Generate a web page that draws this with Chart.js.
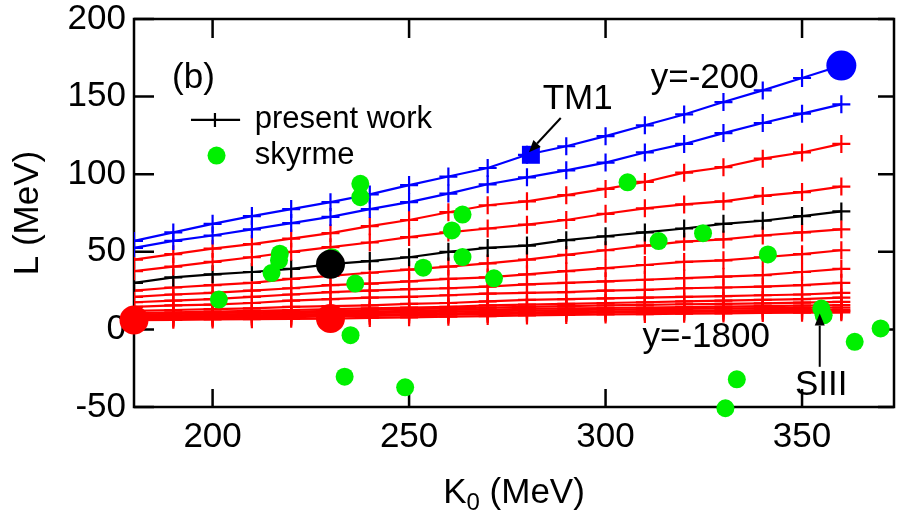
<!DOCTYPE html>
<html>
<head>
<meta charset="utf-8">
<script src="https://cdn.jsdelivr.net/npm/chart.js@4.4.1/dist/chart.umd.min.js"></script>
<style>
  html, body { margin: 0; padding: 0; background: #ffffff; }
  #wrap { width: 909px; height: 523px; position: relative; }
</style>
</head>
<body>
<div id="wrap"><canvas id="chart"></canvas></div>
<script>
// K0 grid of the model curves (MeV)
const kValues = [180, 190, 200, 210, 220, 230, 240, 250, 260, 270, 280, 290, 300, 310, 320, 330, 340, 350, 360];

// L (MeV) along each curve, from y=-200 (top) down to y=-1800 (bottom)
const lBlue1 = [57, 62.5, 68, 73, 77.5, 82, 87, 93, 98.5, 104, 112.5, 118, 124.5, 131.5, 138.5, 146.5, 154, 162, 170];
const lBlue2 = [52.5, 57, 60.5, 64.5, 68.5, 72.5, 77.5, 82, 87.5, 93.5, 98, 102.5, 107.5, 114, 119.5, 126.5, 133, 139, 145];
const lRed1 = [45, 48.5, 52, 55, 58.5, 62, 66.5, 70.5, 75.5, 80, 82.5, 86.5, 90.5, 95, 101, 104.5, 110, 114, 119.5];
const lRed2 = [37.5, 40.5, 43.5, 46.5, 50, 53, 56, 59.5, 62.5, 65, 67.5, 70.5, 74.5, 78, 80.5, 82.5, 86, 88.5, 92];
const lBlack = [30, 33.5, 35.5, 37, 39, 42, 44, 46.5, 50, 52.5, 54, 57.5, 60, 62.5, 65, 68, 70, 73, 76];
const lRed3 = [25, 27, 28.5, 30, 32.5, 34.5, 36.5, 38.5, 40.5, 42.5, 45, 48, 51, 54, 56.5, 58, 60.5, 62.5, 64.5];
const lRed4 = [21, 22.5, 23.5, 25, 26.5, 28.5, 29.5, 31, 32.5, 33.5, 35.5, 37.5, 39.5, 41.5, 43.5, 44.5, 46.5, 48.5, 51];
const lRed5 = [17.5, 18.5, 19.5, 21, 22.5, 24, 25, 26, 26.5, 27.5, 29, 30, 31, 32, 33, 34, 35, 37, 39];
const lRed6 = [14.5, 15.5, 16, 17, 18.5, 19.5, 20.5, 21, 22, 23, 23.5, 24, 25, 25.5, 26.5, 27, 27.5, 28.5, 30];
const lRed7 = [12, 12.5, 13, 13.5, 14.5, 15, 15.5, 16.5, 17, 18, 19, 19.5, 20, 20.5, 21, 21.5, 22, 22.5, 23.5];
const lRed8 = [10.5, 11, 11.5, 12, 12.5, 13, 13.5, 14, 14.5, 15.5, 16, 16.5, 17, 17.5, 18, 18.5, 19, 19.5, 20.5];
const lRed9 = [9.5, 10, 10.5, 11, 11.5, 12, 12.5, 13, 13.5, 14, 14.5, 15, 15.5, 15.8, 16.2, 16.5, 16.8, 17.2, 17.7];
const lRed10 = [8.5, 9, 9.5, 10, 10.5, 11, 11.5, 12, 12.5, 12.8, 13.2, 13.5, 13.8, 14.1, 14.4, 14.7, 15, 15.3, 15.6];
const lRed11 = [7.8, 8.2, 8.6, 9, 9.5, 10, 10.5, 11, 11.4, 11.8, 12.1, 12.4, 12.7, 13, 13.2, 13.5, 13.7, 13.9, 14.1];
const lRed12 = [7.2, 7.6, 8, 8.3, 8.7, 9.1, 9.5, 9.9, 10.3, 10.7, 11, 11.3, 11.6, 11.8, 12, 12.2, 12.4, 12.6, 12.8];
const lRed13 = [6.6, 7, 7.3, 7.6, 7.9, 8.3, 8.7, 9.1, 9.5, 9.9, 10.2, 10.5, 10.8, 11, 11.2, 11.4, 11.6, 11.8, 11.9];
const lRed14 = [6, 6.2, 6.4, 6.6, 6.8, 7, 7.4, 7.8, 8.2, 8.6, 9, 9.3, 9.6, 9.9, 10.1, 10.3, 10.6, 10.8, 11];

// Skyrme parametrisations (K0, L)
const skyrmeK = [201.6, 217.1, 216.9, 215.0, 237.6, 237.6, 236.3, 235.1, 233.6, 249.0, 253.6, 263.6, 260.9, 263.6, 271.6, 305.6, 313.5, 324.8, 330.5, 341.3, 354.9, 355.5, 363.4, 370.0, 333.4, 230.4];
const skyrmeL = [19.2, 48.8, 44.5, 36.3, 93.8, 85.2, 29.5, -3.7, -30.5, -37.3, 39.8, 74.0, 63.8, 46.6, 32.9, 94.8, 56.9, 62.0, -50.8, 48.3, 13.4, 9.1, -8.0, 0.6, -32.2, 46.5];

// highlighted points
const blueDotK = [360], blueDotL = [170];
const blackDotK = [230], blackDotL = [42];
const redDotK = [180, 230], redDotL = [6, 7];
const tm1K = [281], tm1L = [112.5];

// axis ticks
const xTicks = [200, 250, 300, 350];
const yTicks = [-50, 0, 50, 100, 150, 200];

const FONT = '"Liberation Sans", Arial, Helvetica, sans-serif';
const BLUE = '#0000ff';
const RED = '#ff0000';
const BLACK = '#000000';
const GREEN = '#00f000';

const pts = (ks, ls) => ks.map((k, i) => ({ x: k, y: ls[i] }));

const curves = [
    [lBlue1, BLUE], [lBlue2, BLUE], [lRed1, RED], [lRed2, RED], [lBlack, BLACK],
    [lRed3, RED], [lRed4, RED], [lRed5, RED], [lRed6, RED], [lRed7, RED],
    [lRed8, RED], [lRed9, RED], [lRed10, RED], [lRed11, RED], [lRed12, RED],
    [lRed13, RED], [lRed14, RED]
];

const datasets = [];

datasets.push({
    data: pts(tm1K, tm1L), pointStyle: 'rect', pointRadius: 12.7,
    backgroundColor: BLUE, borderWidth: 0, showLine: false, order: 0, clip: false
});
datasets.push({
    data: pts(blueDotK, blueDotL), pointRadius: 15,
    backgroundColor: BLUE, borderWidth: 0, showLine: false, order: 0, clip: false
});
datasets.push({
    data: pts(blackDotK, blackDotL), pointRadius: 14.5,
    backgroundColor: BLACK, borderWidth: 0, showLine: false, order: 0, clip: false
});
datasets.push({
    data: pts(redDotK, redDotL), pointRadius: 14.5,
    backgroundColor: RED, borderWidth: 0, showLine: false, order: 0, clip: false
});
datasets.push({
    data: pts(skyrmeK, skyrmeL), pointRadius: 9,
    backgroundColor: GREEN, borderWidth: 0, showLine: false, order: 1, clip: false
});

curves.forEach(([ls, color]) => {
    datasets.push({
        data: pts(kValues, ls),
        showLine: true,
        borderColor: color,
        borderWidth: 2.2,
        pointStyle: 'cross',
        pointRadius: 9,
        pointBorderColor: color,
        pointBorderWidth: 2.2,
        tension: 0,
        order: 2
    });
});

// annotations, anchored in data units
const notes = [
    { text: '(b)', k: 189.7, l: 155.5 },
    { text: 'TM1', k: 284.0, l: 142.0 },
    { text: 'y=-200', k: 311.5, l: 155.5 },
    { text: 'y=-1800', k: 309.4, l: -11.2 },
    { text: 'SIII', k: 348.2, l: -42.3 }
];
const arrows = [
    { from: [288.6, 136.2], to: [280.5, 114.1] },
    { from: [354.5, -24.1], to: [354.5, 10.2] }
];

function drawArrow(ctx, x1, y1, x2, y2) {
    const ang = Math.atan2(y2 - y1, x2 - x1);
    const len = 12, half = 5;
    const bx = x2 - len * Math.cos(ang), by = y2 - len * Math.sin(ang);
    ctx.beginPath();
    ctx.moveTo(x1, y1);
    ctx.lineTo(bx, by);
    ctx.stroke();
    ctx.beginPath();
    ctx.moveTo(x2, y2);
    ctx.lineTo(bx + half * Math.sin(ang), by - half * Math.cos(ang));
    ctx.lineTo(bx - half * Math.sin(ang), by + half * Math.cos(ang));
    ctx.closePath();
    ctx.fill();
}

const decor = {
    id: 'decor',
    beforeDatasetsDraw(chart) {
        const { ctx, chartArea: a, scales: { x, y } } = chart;
        ctx.save();
        ctx.strokeStyle = BLACK;
        ctx.lineWidth = 2.5;
        ctx.strokeRect(a.left, a.top, a.right - a.left, a.bottom - a.top);
        ctx.beginPath();
        yTicks.forEach(v => {
            const py = y.getPixelForValue(v);
            ctx.moveTo(a.left, py); ctx.lineTo(a.left + 20, py);
            ctx.moveTo(a.right, py); ctx.lineTo(a.right - 16, py);
        });
        xTicks.forEach(v => {
            const px = x.getPixelForValue(v);
            ctx.moveTo(px, a.top); ctx.lineTo(px, a.top + 19);
            ctx.moveTo(px, a.bottom); ctx.lineTo(px, a.bottom - 18);
        });
        ctx.stroke();
        ctx.restore();
    },
    afterDatasetsDraw(chart) {
        const { ctx, chartArea: a, scales: { x, y } } = chart;
        ctx.save();
        ctx.fillStyle = BLACK;
        ctx.strokeStyle = BLACK;
        ctx.textBaseline = 'alphabetic';

        // annotations
        ctx.font = '35px ' + FONT;
        ctx.textAlign = 'left';
        notes.forEach(n => ctx.fillText(n.text, x.getPixelForValue(n.k), y.getPixelForValue(n.l)));

        ctx.lineWidth = 2;
        arrows.forEach(ar => drawArrow(ctx,
            x.getPixelForValue(ar.from[0]), y.getPixelForValue(ar.from[1]),
            x.getPixelForValue(ar.to[0]), y.getPixelForValue(ar.to[1])));

        // legend
        const ly = y.getPixelForValue(135);
        ctx.lineWidth = 2.2;
        ctx.beginPath();
        ctx.moveTo(x.getPixelForValue(194.5), ly);
        ctx.lineTo(x.getPixelForValue(207), ly);
        const cx = x.getPixelForValue(200.6);
        ctx.moveTo(cx, ly - 7); ctx.lineTo(cx, ly + 7);
        ctx.stroke();
        ctx.fillStyle = GREEN;
        ctx.beginPath();
        ctx.arc(x.getPixelForValue(201), y.getPixelForValue(112), 9, 0, Math.PI * 2);
        ctx.fill();
        ctx.fillStyle = BLACK;
        ctx.font = '31px ' + FONT;
        ctx.fillText('present work', x.getPixelForValue(210.7), y.getPixelForValue(129.6));
        ctx.fillText('skyrme', x.getPixelForValue(210.7), y.getPixelForValue(106.8));

        // x-axis title with subscript
        const big = '35px ' + FONT, small = '24px ' + FONT;
        ctx.font = big;
        const wK = ctx.measureText('K').width;
        const wRest = ctx.measureText(' (MeV)').width;
        ctx.font = small;
        const w0 = ctx.measureText('0').width;
        let tx = (a.left + a.right) / 2 - (wK + w0 + wRest) / 2;
        const base = 503;
        ctx.font = big;
        ctx.fillText('K', tx, base);
        tx += wK;
        ctx.font = small;
        ctx.fillText('0', tx, base + 7);
        tx += w0;
        ctx.font = big;
        ctx.fillText(' (MeV)', tx, base);

        // y-axis title
        ctx.translate(38, (a.top + a.bottom) / 2);
        ctx.rotate(-Math.PI / 2);
        ctx.textAlign = 'center';
        ctx.fillText('L (MeV)', 0, 0);
        ctx.restore();
    }
};

new Chart(document.getElementById('chart'), {
    type: 'scatter',
    data: { datasets },
    options: {
        responsive: true,
        maintainAspectRatio: false,
        animation: false,
        layout: { padding: { top: 19, right: 0, bottom: 0, left: 0 } },
        plugins: {
            legend: { display: false },
            tooltip: { enabled: false }
        },
        scales: {
            x: {
                type: 'linear',
                position: 'bottom',
                min: 180,
                max: 373.4,
                afterBuildTicks: s => { s.ticks = xTicks.map(v => ({ value: v })); },
                afterFit: s => {
                    s.height = 116;
                    s.paddingLeft = 0; s.paddingRight = 0;
                },
                grid: { display: false, drawTicks: false },
                border: { display: false },
                ticks: {
                    color: BLACK,
                    font: { family: FONT, size: 35 },
                    padding: 9,
                    maxRotation: 0,
                    autoSkip: false,
                    callback: v => String(v)
                }
            },
            y: {
                type: 'linear',
                position: 'left',
                min: -50,
                max: 200,
                afterBuildTicks: s => { s.ticks = yTicks.map(v => ({ value: v })); },
                afterFit: s => {
                    s.width = 134;
                    s.paddingTop = 0; s.paddingBottom = 0;
                },
                grid: { display: false, drawTicks: false },
                border: { display: false },
                ticks: {
                    color: BLACK,
                    font: { family: FONT, size: 35 },
                    padding: 8,
                    autoSkip: false,
                    callback: v => String(v)
                }
            }
        }
    },
    plugins: [decor]
});
</script>
</body>
</html>
